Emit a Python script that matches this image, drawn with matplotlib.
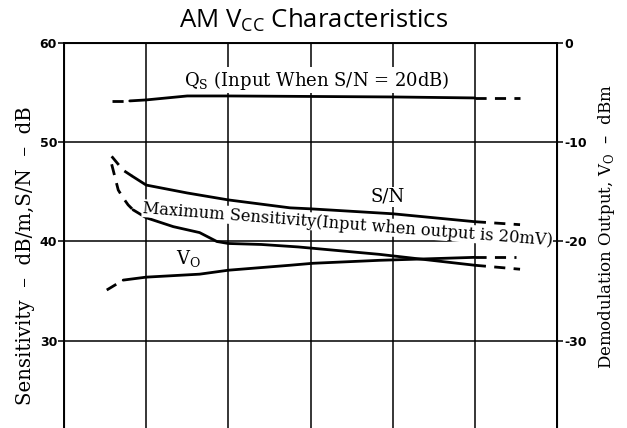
import numpy as np
import matplotlib
matplotlib.use("Agg")
import matplotlib.pyplot as plt

# ---- curve data (x = grid position along the supply-voltage axis) ----
# each curve is solid between its lo/hi limits, dashed outside them
qs_x = [0.58, 0.80, 1.0, 1.5, 2.0, 3.0, 4.0, 5.0, 5.55]
qs_y = [54.2, 54.2, 54.3, 54.7, 54.7, 54.65, 54.6, 54.5, 54.5]
qs_solid = (0.80, 5.0)

sn_x = [0.58, 0.66, 0.72, 0.83, 1.0, 1.5, 2.0, 2.75, 3.0, 4.0, 5.0, 5.55]
sn_y = [48.6, 47.8, 47.2, 46.6, 45.7, 44.9, 44.2, 43.4, 43.3, 42.8, 42.0, 41.7]
sn_solid = (0.83, 5.0)

ms_x = [0.58, 0.62, 0.66, 0.72, 0.78, 0.84, 1.0, 1.33, 1.65, 1.86, 2.0, 2.4,
        2.85, 3.84, 5.0, 5.55]
ms_y = [47.8, 46.5, 45.2, 44.4, 43.7, 43.2, 42.4, 41.5, 40.9, 40.0, 39.8, 39.7,
        39.45, 38.7, 37.6, 37.2]
ms_solid = (0.84, 5.0)

vo_x = [0.52, 0.62, 0.72, 1.0, 1.65, 2.0, 2.75, 3.03, 3.84, 5.0, 5.5]
vo_y = [-24.9, -24.4, -23.9, -23.6, -23.3, -22.9, -22.4, -22.2, -21.9, -21.6, -21.6]
vo_solid = (0.72, 5.0)

left_ticks = [30, 40, 50, 60]
right_ticks = [0, -10, -20, -30]

SERIF = "DejaVu Serif"
DASH = (0, (4, 3))
WHITE = dict(facecolor="white", edgecolor="none", pad=1.0)


def draw_curve(ax, xs, ys, solid):
    xs = np.asarray(xs)
    ys = np.asarray(ys)
    lo, hi = solid
    left = xs <= lo
    mid = (xs >= lo) & (xs <= hi)
    right = xs >= hi
    ax.plot(xs[mid], ys[mid], color="black", lw=2.0, solid_capstyle="round")
    ax.plot(xs[left], ys[left], color="black", lw=2.0, linestyle=DASH)
    ax.plot(xs[right], ys[right], color="black", lw=2.0, linestyle=DASH)


fig = plt.figure(figsize=(6.27, 4.28), dpi=100)
# axes run past the bottom edge of the figure
ax = fig.add_axes([0.1021, -0.0269, 0.7863, 0.9253])
ax.set_xlim(0, 6)
ax.set_ylim(20, 60)
ax.set_xticks(range(7))
ax.set_yticks(left_ticks)
ax.set_yticklabels([str(t) for t in left_ticks], fontsize=9, fontweight="bold")
ax.grid(True, color="black", lw=1.1)
ax.tick_params(axis="y", length=4, width=1.1, pad=1)
ax.tick_params(axis="x", labelbottom=False, length=0)
for sp in ax.spines.values():
    sp.set_linewidth(1.4)

ax2 = ax.twinx()
ax2.set_ylim(-40, 0)
ax2.set_yticks(right_ticks)
ax2.set_yticklabels([str(t) for t in right_ticks], fontsize=9, fontweight="bold")
ax2.tick_params(axis="y", length=4, width=1.1, pad=1)

draw_curve(ax, qs_x, qs_y, qs_solid)
draw_curve(ax, sn_x, sn_y, sn_solid)
draw_curve(ax, ms_x, ms_y, ms_solid)
draw_curve(ax2, vo_x, vo_y, vo_solid)

# curve labels
ax.text(3.08, 56.3, r"Q$_{\mathregular{S}}$ (Input When S/N = 20dB)",
        family=SERIF, fontsize=13, ha="center", va="center", bbox=WHITE)
ax.text(3.94, 44.5, "S/N", family=SERIF, fontsize=13, ha="center",
        va="center", bbox=WHITE)
ax.text(3.45, 41.75, "Maximum Sensitivity(Input when output is 20mV)",
        family=SERIF, fontsize=11.7, ha="center", va="center", rotation=-4.5,
        bbox=dict(facecolor="white", edgecolor="none", pad=0.3))
ax.text(1.52, 38.3, r"V$_{\mathregular{O}}$", family=SERIF, fontsize=13,
        ha="center", va="center")

fig.text(0.5, 0.953, r"AM V$_{\mathregular{CC}}$ Characteristics",
         family="Open Sans", fontsize=18.5, ha="center", va="center")

fig.text(0.041, 0.402, "Sensitivity  \u2013  dB/m,S/N  \u2013  dB", family=SERIF,
         fontsize=14.2, rotation=90, ha="center", va="center")
fig.text(0.968, 0.470,
         r"Demodulation Output, V$_{\mathregular{O}}$" + "  \u2013  dBm",
         family=SERIF, fontsize=12, rotation=90, ha="center", va="center")

fig.savefig("out.png", dpi=100)
